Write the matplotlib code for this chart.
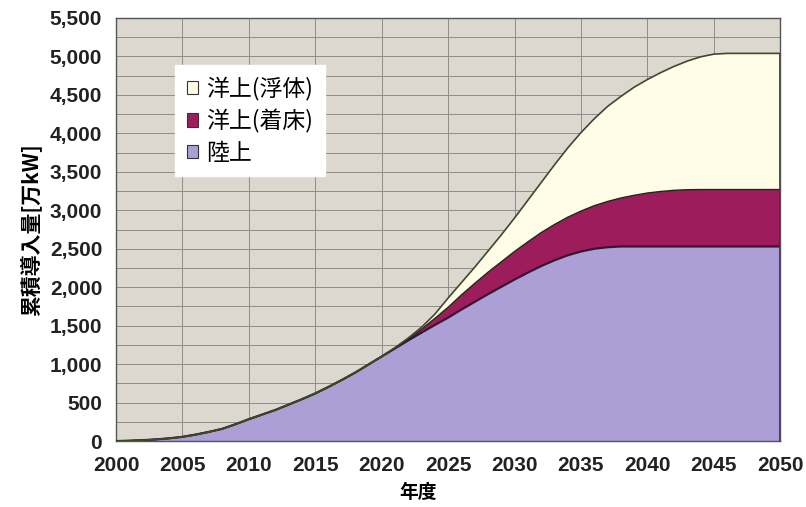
import matplotlib
matplotlib.use("Agg")
import matplotlib.pyplot as plt
from matplotlib.patches import Patch
from matplotlib.ticker import FuncFormatter, MultipleLocator
import numpy as np

plt.rcParams["font.family"] = ["Liberation Sans", "Noto Sans CJK JP", "DejaVu Sans"]

# fiscal years and installed capacity by type [10^4 kW], stacked
years = np.arange(2000, 2051)
onshore = [0, 5, 12, 22, 36, 55, 85, 120, 160, 220,
           285, 345, 405, 475, 545, 620, 705, 795, 890, 995,
           1100, 1205, 1310, 1410, 1510, 1605, 1710, 1810, 1910, 2005,
           2100, 2190, 2275, 2350, 2415, 2465, 2500, 2520, 2530, 2530,
           2530, 2530, 2530, 2530, 2530, 2530, 2530, 2530, 2530, 2530, 2530]
offshore_fixed = [0] * 21 + [5, 20, 45, 85, 135, 190, 240, 285, 325,
                             365, 400, 435, 465, 495, 525, 560, 595, 630, 665,
                             695, 715, 730, 738, 740, 740, 740, 740, 740, 740, 740]
offshore_floating = [0] * 21 + [5, 10, 25, 55, 120, 160, 210, 275, 350,
                                435, 540, 650, 775, 900, 1020, 1130, 1235, 1320, 1405,
                                1475, 1545, 1610, 1672, 1725, 1760, 1770, 1770, 1770, 1770, 1770]

labels = ["陸上", "洋上(着床)", "洋上(浮体)"]
colors = ["#ab9fd6", "#9c1c5c", "#fffde8"]

fig = plt.figure(figsize=(8.06, 5.07), dpi=100)
ax = fig.add_axes([0.144, 0.130, 0.824, 0.8345])
ax.set_facecolor("#dcd8d0")

ax.stackplot(years, onshore, offshore_fixed, offshore_floating,
             colors=colors, zorder=2)
# outline each layer's upper edge
c1 = np.array(onshore)
c2 = c1 + np.array(offshore_fixed)
c3 = c2 + np.array(offshore_floating)
ax.plot(years, c1, color="#2a1a3a", lw=1.6, zorder=3)
ax.plot(years, c2, color="#3a1a20", lw=1.0, zorder=3)
ax.plot(years, c3, color="#3c4a2c", lw=1.2, zorder=3)
ax.vlines(2050, 0, c3[-1], color="#333333", lw=1.2, zorder=3)

ax.set_xlim(2000, 2050)
ax.set_ylim(0, 5500)
ax.xaxis.set_major_locator(MultipleLocator(5))
ax.yaxis.set_major_locator(MultipleLocator(500))
ax.yaxis.set_minor_locator(MultipleLocator(250))
ax.yaxis.set_major_formatter(FuncFormatter(lambda v, p: f"{int(v):,}"))
ax.grid(which="both", color="#918c86", lw=0.7, zorder=1)
ax.tick_params(which="both", length=0)
ax.tick_params(axis="x", pad=11)
ax.tick_params(axis="y", pad=10)
for lab in ax.get_xticklabels() + ax.get_yticklabels():
    lab.set_fontsize(15)
    lab.set_fontweight("bold")
    lab.set_color("#222222")
for s in ax.spines.values():
    s.set_color("#555555")
    s.set_linewidth(1.0)

ax.set_ylabel("累積導入量[万kW]", fontsize=15, fontweight="bold",
              family=["Noto Sans CJK JP"])
ax.yaxis.set_label_coords(-0.113, 0.5)
ax.set_xlabel("年度", fontsize=13.5, fontweight="bold",
              family=["Noto Sans CJK JP"])
ax.xaxis.set_label_coords(0.455, -0.098)

handles = [Patch(facecolor=colors[i], edgecolor="#333333", lw=0.8)
           for i in (2, 1, 0)]
leg = ax.legend(handles, [labels[i] for i in (2, 1, 0)],
                loc="upper left", bbox_to_anchor=(0.089, 0.889),
                frameon=True, fancybox=False, framealpha=1,
                edgecolor="white", facecolor="white",
                handlelength=0.5, handleheight=0.5, handletextpad=0.35,
                labelspacing=0.38, borderpad=0.5, borderaxespad=0,
                prop={"family": ["Noto Sans CJK JP"], "size": 16.5})
leg.set_zorder(5)

fig.savefig("out.png", dpi=100)
